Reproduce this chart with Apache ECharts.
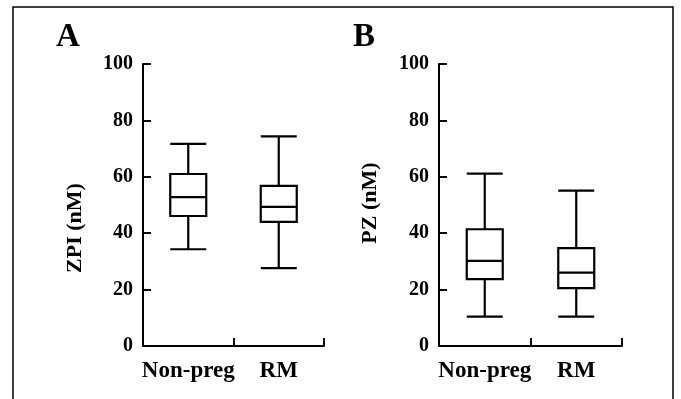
<!DOCTYPE html>
<html>
<head>
<meta charset="utf-8">
<script src="https://cdn.jsdelivr.net/npm/echarts@6/dist/echarts.min.js"></script>
<style>
html,body{margin:0;padding:0;background:#fff;}
#chart{width:681px;height:399px;}
</style>
</head>
<body>
<div id="chart"></div>
<script>
// Data
const categories = ['Non-preg', 'RM'];
const yTicks = [0, 20, 40, 60, 80, 100];
// [min, Q1, median, Q3, max]
const zpiNonPreg = [34.3, 46.1, 52.8, 61.0, 71.7];
const zpiRM = [27.6, 44.0, 49.3, 56.8, 74.3];
const pzNonPreg = [10.4, 23.7, 30.2, 41.4, 61.1];
const pzRM = [10.4, 20.5, 26.0, 34.7, 55.1];
const panelLabels = ['A', 'B'];
const yNames = ['ZPI (nM)', 'PZ (nM)'];

const FONT = '"Liberation Serif", "DejaVu Serif", serif';

function xAxis(gi) {
  return {
    type: 'category', gridIndex: gi, data: categories, boundaryGap: true,
    axisLine: {show: true, lineStyle: {color: '#000', width: 2}},
    axisTick: {show: true, inside: true, interval: 0, alignWithLabel: false, length: 8, lineStyle: {color: '#000', width: 2}},
    axisLabel: {color: '#000', fontFamily: FONT, fontWeight: 'bold', fontSize: 23, margin: 14, interval: 0, hideOverlap: false},
    splitLine: {show: false}
  };
}
function yAxis(gi) {
  return {
    type: 'value', gridIndex: gi, min: yTicks[0], max: yTicks[yTicks.length - 1], interval: 20,
    axisLine: {show: true, lineStyle: {color: '#000', width: 2}},
    axisTick: {show: true, inside: true, length: 8, lineStyle: {color: '#000', width: 2}},
    axisLabel: {color: '#000', fontFamily: FONT, fontWeight: 'bold', fontSize: 20, margin: 10},
    splitLine: {show: false}
  };
}
function box(gi, data) {
  return {
    type: 'boxplot', xAxisIndex: gi, yAxisIndex: gi,
    data: data, boxWidth: [36, 36],
    itemStyle: {color: '#fff', borderColor: '#000', borderWidth: 2.2},
    emphasis: {disabled: true},
    silent: true
  };
}

const chart = echarts.init(document.getElementById('chart'), null, {renderer: 'canvas'});
chart.setOption({
  animation: false,
  backgroundColor: '#fff',
  grid: [
    {left: 143, top: 64, width: 181, height: 282},
    {left: 439, top: 64, width: 183, height: 282}
  ],
  xAxis: [xAxis(0), xAxis(1)],
  yAxis: [yAxis(0), yAxis(1)],
  series: [
    box(0, [zpiNonPreg, zpiRM]),
    box(1, [pzNonPreg, pzRM])
  ],
  graphic: [
    {type: 'rect', shape: {x: 13, y: 7, width: 660, height: 420},
     style: {fill: 'none', stroke: '#000', lineWidth: 1.5}, silent: true},
    {type: 'text', x: 68, y: 37, style: {text: panelLabels[0], fontFamily: FONT, fontWeight: 'bold', fontSize: 33, fill: '#000', textAlign: 'center', textVerticalAlign: 'middle'}},
    {type: 'text', x: 364, y: 37, style: {text: panelLabels[1], fontFamily: FONT, fontWeight: 'bold', fontSize: 33, fill: '#000', textAlign: 'center', textVerticalAlign: 'middle'}},
    {type: 'text', x: 75, y: 228, rotation: Math.PI / 2, style: {text: yNames[0], fontFamily: FONT, fontWeight: 'bold', fontSize: 22, fill: '#000', textAlign: 'center', textVerticalAlign: 'middle'}},
    {type: 'text', x: 370, y: 203, rotation: Math.PI / 2, style: {text: yNames[1], fontFamily: FONT, fontWeight: 'bold', fontSize: 22, fill: '#000', textAlign: 'center', textVerticalAlign: 'middle'}}
  ]
});
</script>
</body>
</html>
